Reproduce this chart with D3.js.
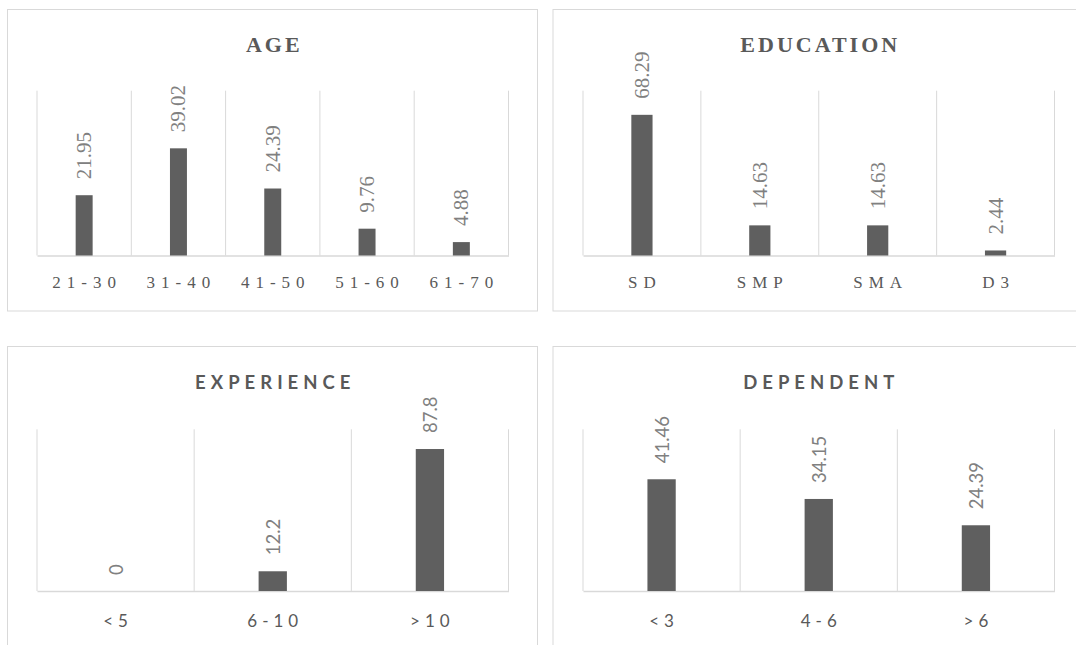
<!DOCTYPE html>
<html>
<head>
<meta charset="utf-8">
<script src="https://cdn.jsdelivr.net/npm/d3@7"></script>
<style>
  html, body { margin: 0; padding: 0; background: #ffffff; }
  svg { display: block; }
</style>
</head>
<body>
<svg id="chart" width="1076" height="645"></svg>
<script>
// ---- data ----
const ageCategories = ["21-30", "31-40", "41-50", "51-60", "61-70"];
const ageValues = [21.95, 39.02, 24.39, 9.76, 4.88];

const educationCategories = ["SD", "SMP", "SMA", "D3"];
const educationValues = [68.29, 14.63, 14.63, 2.44];

const experienceCategories = ["<5", "6-10", ">10"];
const experienceValues = [0, 12.2, 87.8];

const dependentCategories = ["<3", "4-6", ">6"];
const dependentValues = [41.46, 34.15, 24.39];

const panelTitles = ["AGE", "EDUCATION", "EXPERIENCE", "DEPENDENT"];
const axisMax = [60, 80, 100, 60];

// ---- layout / style ----
const serif = "'Liberation Serif', 'Times New Roman', serif";
const sans = "Lato, 'Open Sans', sans-serif";

const layouts = [
  { box: [7.5, 9.5, 530, 301.5], plot: [37, 508.5, 90.7, 255.5], titleY: 51.5, labelY: 288.3, font: "serif" },
  { box: [553, 9.5, 530, 301.5], plot: [583, 1054.5, 90.7, 255.5], titleY: 51.5, labelY: 288.3, font: "serif" },
  { box: [7.5, 346.5, 530, 330], plot: [37, 508.5, 429.3, 591], titleY: 389, labelY: 626.5, font: "sans" },
  { box: [553, 346.5, 530, 330], plot: [583, 1054.5, 429.3, 591], titleY: 389, labelY: 626.5, font: "sans" }
];

const panels = [
  { title: panelTitles[0], cats: ageCategories, vals: ageValues, max: axisMax[0] },
  { title: panelTitles[1], cats: educationCategories, vals: educationValues, max: axisMax[1] },
  { title: panelTitles[2], cats: experienceCategories, vals: experienceValues, max: axisMax[2] },
  { title: panelTitles[3], cats: dependentCategories, vals: dependentValues, max: axisMax[3] }
];

const svg = d3.select("#chart");
const gridColor = "#d9d9d9";
const barColor = "#5f5f5f";
const textColor = "#595959";
const valueColor = "#808080";

panels.forEach((p, i) => {
  const L = layouts[i];
  const isSerif = L.font === "serif";
  const g = svg.append("g");

  // panel frame
  g.append("rect")
    .attr("x", L.box[0]).attr("y", L.box[1])
    .attr("width", L.box[2]).attr("height", L.box[3])
    .attr("fill", "#ffffff")
    .attr("stroke", gridColor).attr("stroke-width", 1);

  const [x0, x1, yTop, yBase] = L.plot;
  const pad = 0.82;
  const x = d3.scaleBand().domain(p.cats).range([x0, x1])
    .paddingInner(pad).paddingOuter(pad / 2);
  const y = d3.scaleLinear().domain([0, p.max]).range([yBase, yTop]);
  const step = x.step();

  // vertical gridlines at category boundaries
  const bounds = d3.range(p.cats.length + 1).map(k => x0 + k * step);
  g.selectAll("line.grid").data(bounds).enter().append("line")
    .attr("class", "grid")
    .attr("x1", d => d).attr("x2", d => d)
    .attr("y1", y(p.max)).attr("y2", y(0))
    .attr("stroke", gridColor).attr("stroke-width", 1);

  // category axis (baseline)
  const axis = d3.axisBottom(x).tickSize(0).tickPadding(0).tickFormat("");
  const axG = g.append("g").attr("transform", `translate(0,${y(0)})`).call(axis);
  axG.select(".domain").attr("stroke", gridColor).attr("stroke-width", 1.5);

  // bars
  g.selectAll("rect.bar").data(p.vals).enter().append("rect")
    .attr("class", "bar")
    .attr("x", (d, k) => x(p.cats[k]))
    .attr("y", d => y(d))
    .attr("width", x.bandwidth())
    .attr("height", d => y(0) - y(d))
    .attr("fill", barColor);

  // value labels (rotated)
  const vFont = isSerif ? serif : sans;
  const vSize = isSerif ? 21 : 18.5;
  g.selectAll("text.val").data(p.vals).enter().append("text")
    .attr("class", "val")
    .attr("transform", (d, k) => `translate(${x(p.cats[k]) + x.bandwidth() / 2},${y(d) - 16}) rotate(-90)`)
    .attr("text-anchor", "start")
    .attr("dominant-baseline", "central")
    .style("font-family", vFont)
    .style("font-size", vSize + "px")
    .attr("fill", valueColor)
    .text(d => String(d));

  // category labels
  const ls = isSerif ? 6 : 5;
  g.selectAll("text.cat").data(p.cats).enter().append("text")
    .attr("class", "cat")
    .attr("x", d => x(d) + x.bandwidth() / 2 + ls / 2)
    .attr("y", L.labelY)
    .attr("text-anchor", "middle")
    .style("font-family", isSerif ? serif : sans)
    .style("font-size", (isSerif ? 17 : 17) + "px")
    .style("letter-spacing", ls + "px")
    .attr("fill", textColor)
    .text(d => d);

  // title
  const tls = isSerif ? 3 : 5;
  g.append("text")
    .attr("x", (x0 + x1) / 2 + tls / 2)
    .attr("y", L.titleY)
    .attr("text-anchor", "middle")
    .style("font-family", isSerif ? serif : sans)
    .style("font-weight", "bold")
    .style("font-size", (isSerif ? 22 : 18.5) + "px")
    .style("letter-spacing", tls + "px")
    .attr("fill", textColor)
    .text(p.title);
});
</script>
</body>
</html>
